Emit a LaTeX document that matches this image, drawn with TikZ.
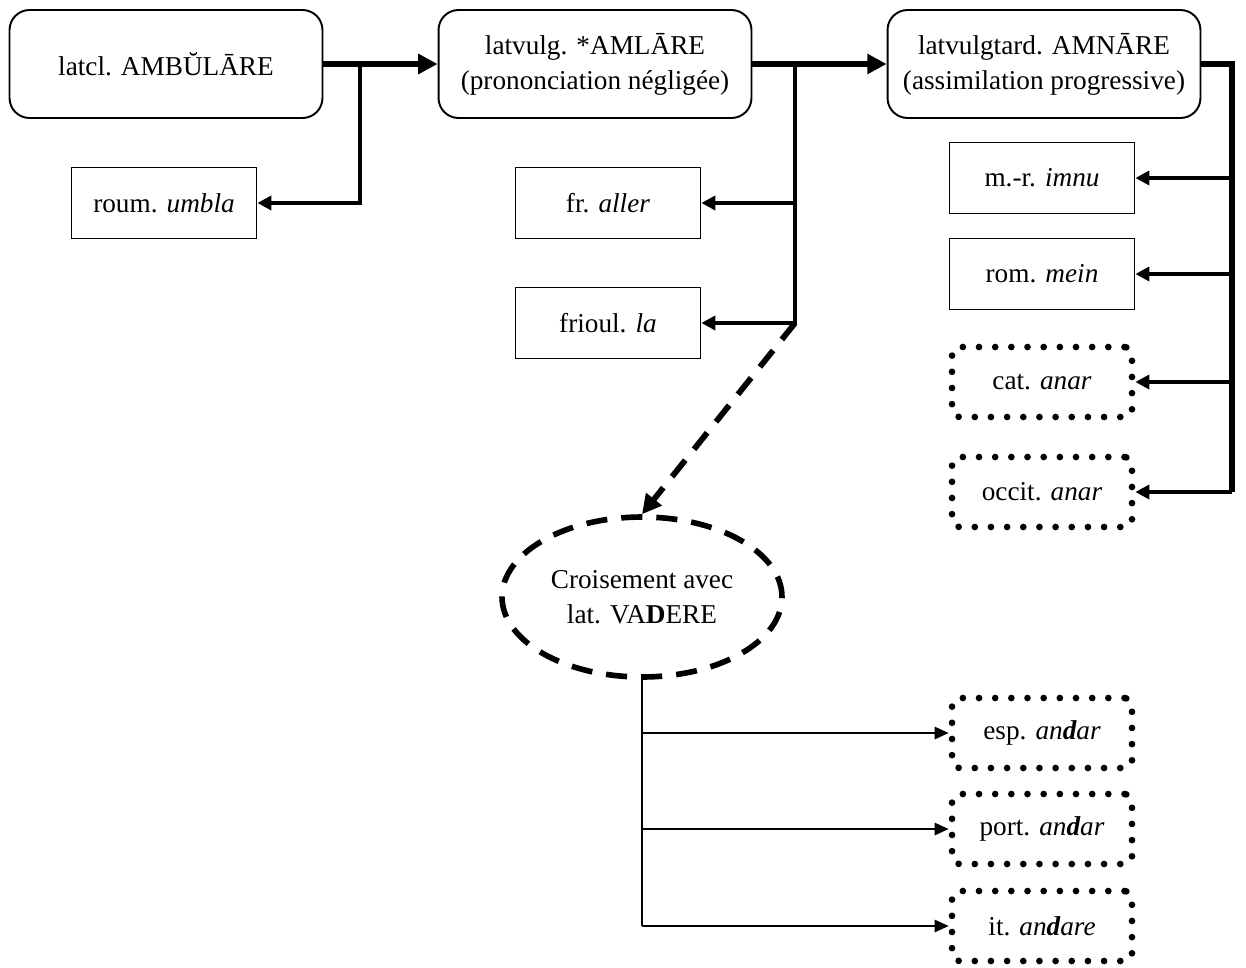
\documentclass[tikz,border=0pt]{standalone}
\usepackage{fontspec}
\setmainfont{Liberation Serif}
\usetikzlibrary{arrows.meta,shapes.geometric}
\begin{document}
\begin{tikzpicture}[x=0.02cm,y=-0.02cm,
    font=\fontsize{15.5}{20}\selectfont,
    etape/.style={draw,line width=1.1pt,rounded corners=0.4cm,minimum width=6.26cm,minimum height=2.16cm,align=center,inner sep=0pt},
    forme/.style={draw,line width=1pt,minimum width=3.7cm,minimum height=1.42cm,inner sep=0pt},
    douteux/.style={draw,line width=3.8pt,dash pattern=on 0pt off 9.2pt,line cap=round,rounded corners=0.15cm,minimum width=3.6cm,minimum height=1.4cm,inner sep=0pt},
    gros/.style={line width=3.3pt},
    gfleche/.style={gros,-{Triangle[length=11pt,width=11pt]}},
    fleche/.style={line width=2.4pt,-{Triangle[length=8pt,width=8pt]}},
    mince/.style={line width=1.1pt,-{Triangle[length=8pt,width=7pt]}}]
  \useasboundingbox (0,0) rectangle (1246,967);
  % etapes
  \node[etape] (latcl) at (166,64) {latcl. AMBŬLĀRE};
  \node[etape] (vulg) at (595,64) {latvulg. *AMLĀRE\\(prononciation négligée)};
  \node[etape] (tard) at (1044,64) {latvulgtard. AMNĀRE\\(assimilation progressive)};
  % formes
  \node[forme] (roum) at (164,203) {roum. \textit{umbla}};
  \node[forme] (fr) at (608,203) {fr. \textit{aller}};
  \node[forme] (friou) at (608,323) {frioul. \textit{la}};
  \node[forme] (mr) at (1042,178) {m.-r. \textit{imnu}};
  \node[forme] (rom) at (1042,274) {rom. \textit{mein}};
  \node[douteux] (cat) at (1042,382) {cat. \textit{anar}};
  \node[douteux] (occ) at (1042,492) {occit. \textit{anar}};
  \node[draw,ellipse,line width=3.2pt,dash pattern=on 12pt off 8pt,minimum width=5.6cm,minimum height=3.2cm,inner sep=0pt,align=center] (crois) at (642,597) {Croisement avec\\lat. VA\textbf{D}ERE};
  \node[douteux] (esp) at (1042,733) {esp. \textit{an\textbf{d}ar}};
  \node[douteux] (port) at (1042,829) {port. \textit{an\textbf{d}ar}};
  \node[douteux] (it) at (1042,926) {it. \textit{an\textbf{d}are}};

  \coordinate (j1) at (360,64);
  \coordinate (j2) at (795,64);
  \coordinate (j3) at (1232,64);
  \draw[gfleche] (latcl) -- (vulg);
  \draw[gfleche] (vulg) -- (tard);
  \draw[fleche] (j1) |- (roum);
  \draw[fleche] (j2) |- (fr);
  \draw[fleche] (j2) |- (friou);
  \draw[gros,dash pattern=on 12pt off 8pt,-{Triangle[length=11pt,width=11pt]}] (j2 |- friou) -- (crois.north);
  \draw[gros] (tard) -- (j3) -- (j3 |- occ);
  \foreach \n in {mr,rom,cat,occ} \draw[fleche] (j3 |- \n) -- (\n);
  \draw[line width=1.3pt] (crois.south) -- (crois.south |- it);
  \foreach \n in {esp,port,it} \draw[mince] (crois.south |- \n) -- (\n);
\end{tikzpicture}
\end{document}
